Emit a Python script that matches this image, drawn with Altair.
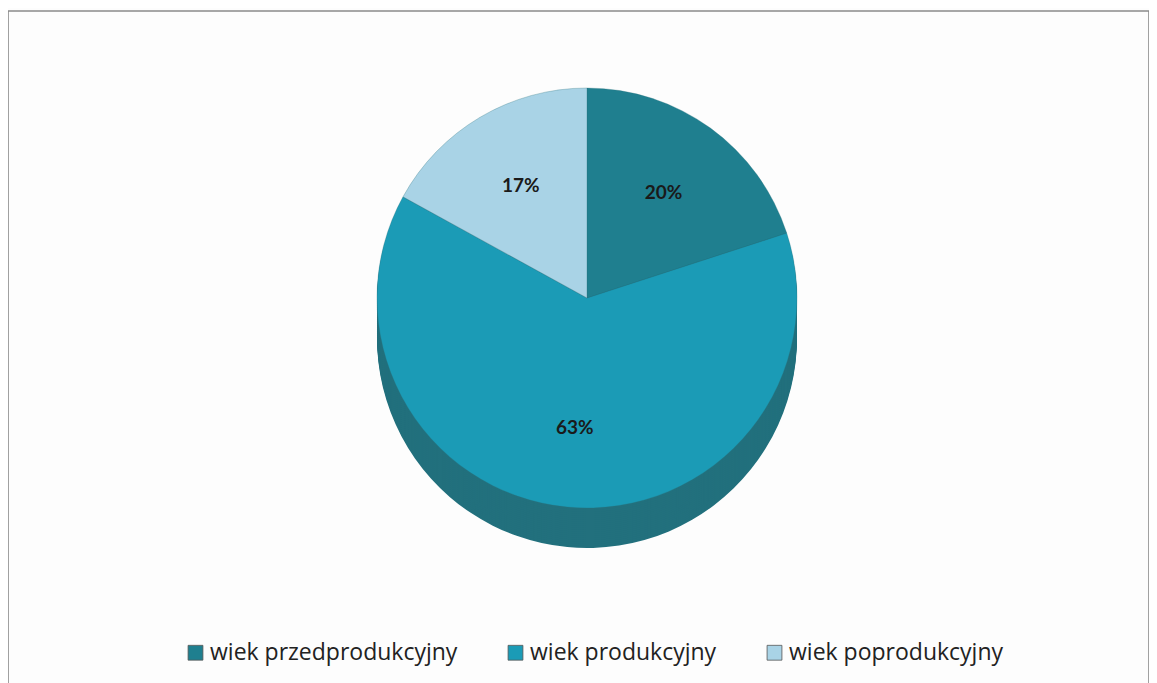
import altair as alt
import pandas as pd

categories = ["wiek przedprodukcyjny", "wiek produkcyjny", "wiek poprodukcyjny"]
values = [20, 63, 17]
labels = ["20%", "63%", "17%"]
order = [1, 2, 3]

top_colors = ["#1f7f8f", "#1b9bb6", "#a9d3e6"]
side_colors = ["#1d5f6b", "#22707d", "#7fa6b6"]

df = pd.DataFrame({"cat": categories, "val": values, "lab": labels, "ord": order})

CX = 579
CY = 287
R = 210
DEPTH = 40

color_top = alt.Color(
    "cat:N",
    scale=alt.Scale(domain=categories, range=top_colors),
    sort=categories,
    legend=alt.Legend(
        title=None,
        orient="none",
        legendX=176,
        legendY=630,
        direction="horizontal",
        symbolType="square",
        symbolSize=220,
        symbolStrokeColor="#555555",
        symbolStrokeWidth=0.8,
        labelFont="Open Sans",
        labelFontSize=23,
        labelColor="#222222",
        columnPadding=46,
        labelOffset=3,
        labelLimit=400,
    ),
)

base = alt.Chart(df).encode(
    theta=alt.Theta("val:Q", stack=True),
    order=alt.Order("ord:Q"),
)

layers = []
for d in range(DEPTH, 0, -2):
    layers.append(
        base.mark_arc(radius=R, stroke=None).encode(
            color=alt.Color("cat:N", scale=alt.Scale(domain=categories, range=side_colors), legend=None),
            x=alt.value(CX),
            y=alt.value(CY + d),
        )
    )

top = base.mark_arc(radius=R, stroke="#2a6f7a", strokeWidth=0.3).encode(
    color=color_top,
    x=alt.value(CX),
    y=alt.value(CY),
)

text = base.mark_text(
    radius=R * 0.62, font="Lato", fontSize=19, fontWeight="bold", color="#1a1a1a"
).encode(
    text="lab:N",
    x=alt.value(CX),
    y=alt.value(CY),
)

chart = (
    alt.layer(*layers, top, text)
    .resolve_scale(color="independent")
    .properties(
        width=1141,
        height=700,
        padding={"left": 0, "top": 3, "right": 0, "bottom": 0},
        background="#fdfdfd",
    )
    .configure_view(stroke="#8a8a8a", strokeWidth=1.6)
)

chart.save("out.html", embed_options={"renderer": "svg", "actions": False})
